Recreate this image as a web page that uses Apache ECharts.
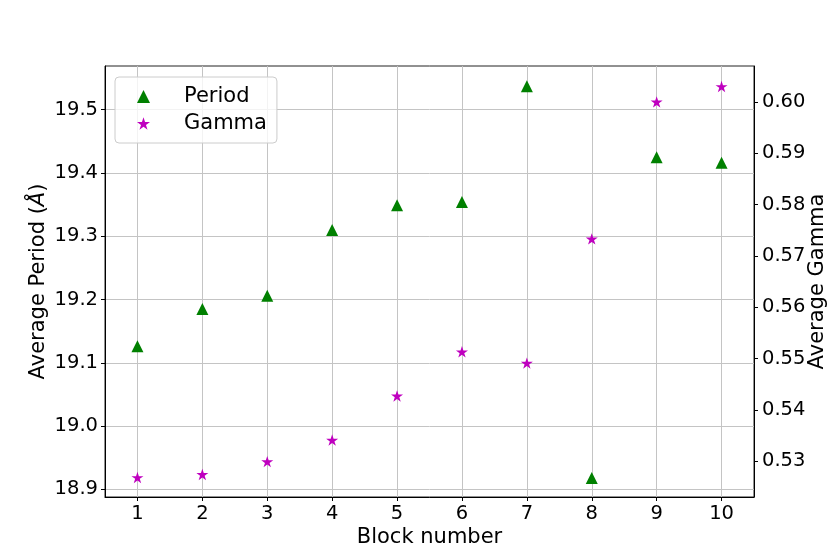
<!DOCTYPE html>
<html>
<head>
<meta charset="utf-8">
<script src="https://cdn.jsdelivr.net/npm/echarts@6/dist/echarts.min.js"></script>
<style>html,body{margin:0;padding:0;background:#fff}#c{width:839px;height:559px}</style>
</head>
<body>
<div id="c"></div>
<script>
const blocks = [1, 2, 3, 4, 5, 6, 7, 8, 9, 10];
const period = [19.126, 19.185, 19.206, 19.310, 19.349, 19.354, 19.537, 18.918, 19.425, 19.416];
const gamma = [0.5268, 0.5274, 0.5299, 0.5341, 0.5427, 0.5513, 0.5491, 0.5733, 0.6000, 0.6030];
const periodTicks = [18.9, 19.0, 19.1, 19.2, 19.3, 19.4, 19.5];
const gammaTicks = [0.53, 0.54, 0.55, 0.56, 0.57, 0.58, 0.59, 0.60];

const FONT = 'DejaVu Sans';
const TICK_FS = 19.5;
const NAME_FS = 21;
const STAR = 'path://M100 0 L122.45 69.1 L195.11 69.1 L136.33 111.8 L158.78 180.9 L100 138.2 L41.22 180.9 L63.67 111.8 L4.89 69.1 L77.55 69.1 Z';

const chart = echarts.init(document.getElementById('c'), null, {renderer: 'canvas'});
const tickStyle = {show: true, inside: false, length: 4, lineStyle: {color: '#000', width: 1}};
chart.setOption({
  animation: false,
  backgroundColor: '#fff',
  textStyle: {fontFamily: FONT},
  grid: {left: 105, right: 85, top: 66, bottom: 62, show: true, borderColor: '#222', borderWidth: 1, containLabel: false, outerBoundsMode: 'none'},
  legend: {
    left: 115, top: 77, orient: 'vertical',
    itemWidth: 13, itemHeight: 13, itemGap: 6,
    padding: [9, 10, 9, 22],
    borderColor: '#cccccc', borderWidth: 1, borderRadius: 4,
    backgroundColor: 'rgba(255,255,255,0.8)',
    textStyle: {fontFamily: FONT, fontSize: NAME_FS, color: '#000', lineHeight: 21, padding: [0, 0, 0, 29]},
    data: [{name: 'Period', icon: 'triangle'}, {name: 'Gamma', icon: STAR}]
  },
  xAxis: {
    type: 'value', min: 0.5, max: 10.5,
    name: 'Block number', nameLocation: 'middle', nameGap: 30, nameMoveOverlap: false,
    nameTextStyle: {fontFamily: FONT, fontSize: NAME_FS, color: '#000'},
    axisLine: {show: true, onZero: false, lineStyle: {color: '#000', width: 1}},
    axisTick: Object.assign({customValues: blocks}, tickStyle),
    axisLabel: {customValues: blocks, fontFamily: FONT, fontSize: TICK_FS, color: '#000', margin: 7},
    splitLine: {show: true, lineStyle: {color: '#c4c4c4', width: 1}}
  },
  yAxis: [{
    type: 'value', position: 'left', min: 18.888, max: 19.569,
    name: 'Average Period ({i|Å})', nameLocation: 'middle', nameGap: 56, nameMoveOverlap: false,
    nameTextStyle: {fontFamily: FONT, fontSize: NAME_FS, color: '#000', rich: {i: {fontFamily: FONT, fontSize: NAME_FS, fontStyle: 'italic', color: '#000'}}},
    axisLine: {show: true, lineStyle: {color: '#000', width: 1}},
    axisTick: Object.assign({customValues: periodTicks}, tickStyle),
    axisLabel: {customValues: periodTicks, fontFamily: FONT, fontSize: TICK_FS, color: '#000', margin: 7, formatter: v => v.toFixed(1)},
    splitLine: {show: true, lineStyle: {color: '#c4c4c4', width: 1}}
  }, {
    type: 'value', position: 'right', min: 0.523, max: 0.607,
    name: 'Average Gamma', nameLocation: 'middle', nameGap: 53, nameMoveOverlap: false,
    nameTextStyle: {fontFamily: FONT, fontSize: NAME_FS, color: '#000'},
    axisLine: {show: true, lineStyle: {color: '#000', width: 1}},
    axisTick: Object.assign({customValues: gammaTicks}, tickStyle),
    axisLabel: {customValues: gammaTicks, fontFamily: FONT, fontSize: TICK_FS, color: '#000', margin: 8, formatter: v => v.toFixed(2)},
    splitLine: {show: false}
  }],
  series: [{
    name: 'Period', type: 'scatter', yAxisIndex: 0,
    symbol: 'triangle', symbolSize: 12,
    itemStyle: {color: '#008000', opacity: 1},
    data: blocks.map((b, i) => [b, period[i]])
  }, {
    name: 'Gamma', type: 'scatter', yAxisIndex: 1,
    symbol: STAR, symbolSize: 12, symbolKeepAspect: true,
    itemStyle: {color: '#bf00bf', opacity: 1},
    data: blocks.map((b, i) => [b, gamma[i]])
  }]
});
</script>
</body>
</html>
